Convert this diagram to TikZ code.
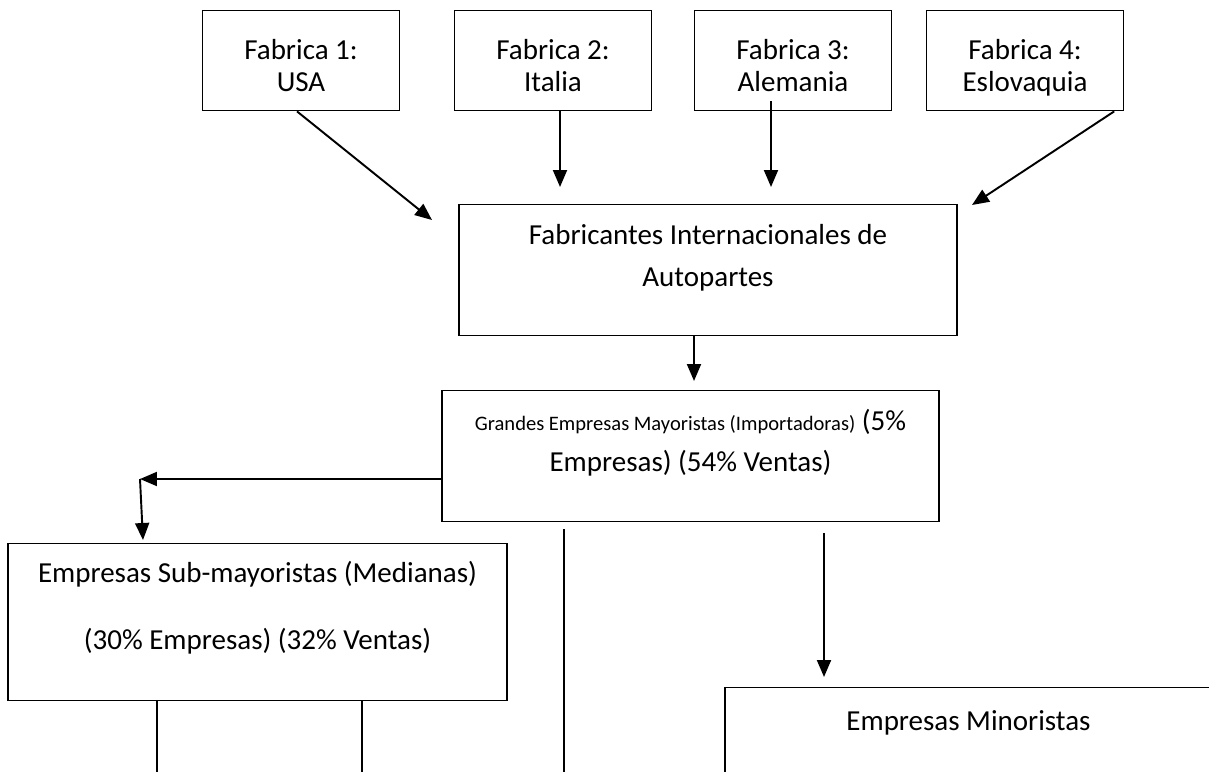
\documentclass[tikz,border=0pt]{standalone}
\usepackage{fontspec}
\setmainfont{Carlito}
\usetikzlibrary{arrows.meta, positioning}

\begin{document}
\begin{tikzpicture}[
    x=0.02cm, y=-0.02cm,
    box/.style={rectangle, draw=black, line width=0.8pt, inner sep=0pt, anchor=north},
    line/.style={draw=black, line width=1.1pt, -{Triangle[length=0.34cm, width=0.28cm]}},
    wire/.style={draw=black, line width=1.1pt}
]
    \useasboundingbox (0,0) rectangle (1209,771);

    % Fabricas
    \foreach \cx/\num/\pais in {301/1/USA, 553/2/Italia, 793/3/Alemania, 1025/4/Eslovaquia}
        \node[box] (f\num) at (\cx,10) {\parbox[c][2cm][t]{3.94cm}{\centering\fontsize{16.5}{0.64cm}\selectfont\rule{0pt}{0.97cm}Fabrica \num:\\\pais}};

    \node[box] (fabint) at (708,204) {\parbox[c][2.62cm][t]{9.96cm}{\centering\fontsize{16.5}{0.84cm}\selectfont\rule{0pt}{0.8cm}Fabricantes Internacionales de\\Autopartes}};
    \node[box] (grandes) at (690.5,390) {\parbox[c][2.62cm][t]{9.94cm}{\centering\fontsize{16.5}{0.82cm}\selectfont\rule{0pt}{0.8cm}{\fontsize{11.7}{14}\selectfont Grandes Empresas Mayoristas (Importadoras)} (5\%\\Empresas) (54\% Ventas)}};
    \node[box] (sub) at (257.5,543) {\parbox[c][3.14cm][t]{9.98cm}{\centering\fontsize{16.5}{1.34cm}\selectfont\rule{0pt}{0.78cm}Empresas Sub-mayoristas (Medianas)\\(30\% Empresas) (32\% Ventas)}};
    \node[box] (mino) at (968.5,687) {\parbox[c][2.6cm][t]{9.74cm}{\centering\fontsize{16.5}{0.66cm}\selectfont\rule{0pt}{0.86cm}Empresas Minoristas}};

    % puntas de flecha
    \coordinate (in1) at (432,220);
    \coordinate (in2) at (560,187);
    \coordinate (in3) at (771,187);
    \coordinate (in4) at (972,205);
    \coordinate (in5) at (694,381);
    \coordinate (turn) at (140,479);
    \coordinate (in6) at (143,540);
    \coordinate (in7) at (824,677);
    \coordinate (out1) at (564,775);
    \coordinate (out2) at (157,775);
    \coordinate (out3) at (362,775);

    % Conectores
    \draw[line] ([xshift=-0.08cm]f1.south) -- (in1);
    \draw[line] (f2.south -| in2) -- (in2);
    \draw[line] (in3 |- f3.south) ++(0,-10) -- (in3);
    \draw[line] ([xshift=-0.2cm]f4.south east) -- (in4);
    \draw[line] (fabint.south -| in5) -- (in5);
    \draw[line] (grandes.west |- turn) -- (turn);
    \draw[line] (turn) -- (in6);
    \draw[wire] (grandes.south -| out1) ++(0,7) -- (out1);
    \draw[line] (grandes.south -| in7) ++(0,11) -- (in7);
    \draw[wire] (sub.south -| out2) -- (out2);
    \draw[wire] (sub.south -| out3) -- (out3);
\end{tikzpicture}
\end{document}
